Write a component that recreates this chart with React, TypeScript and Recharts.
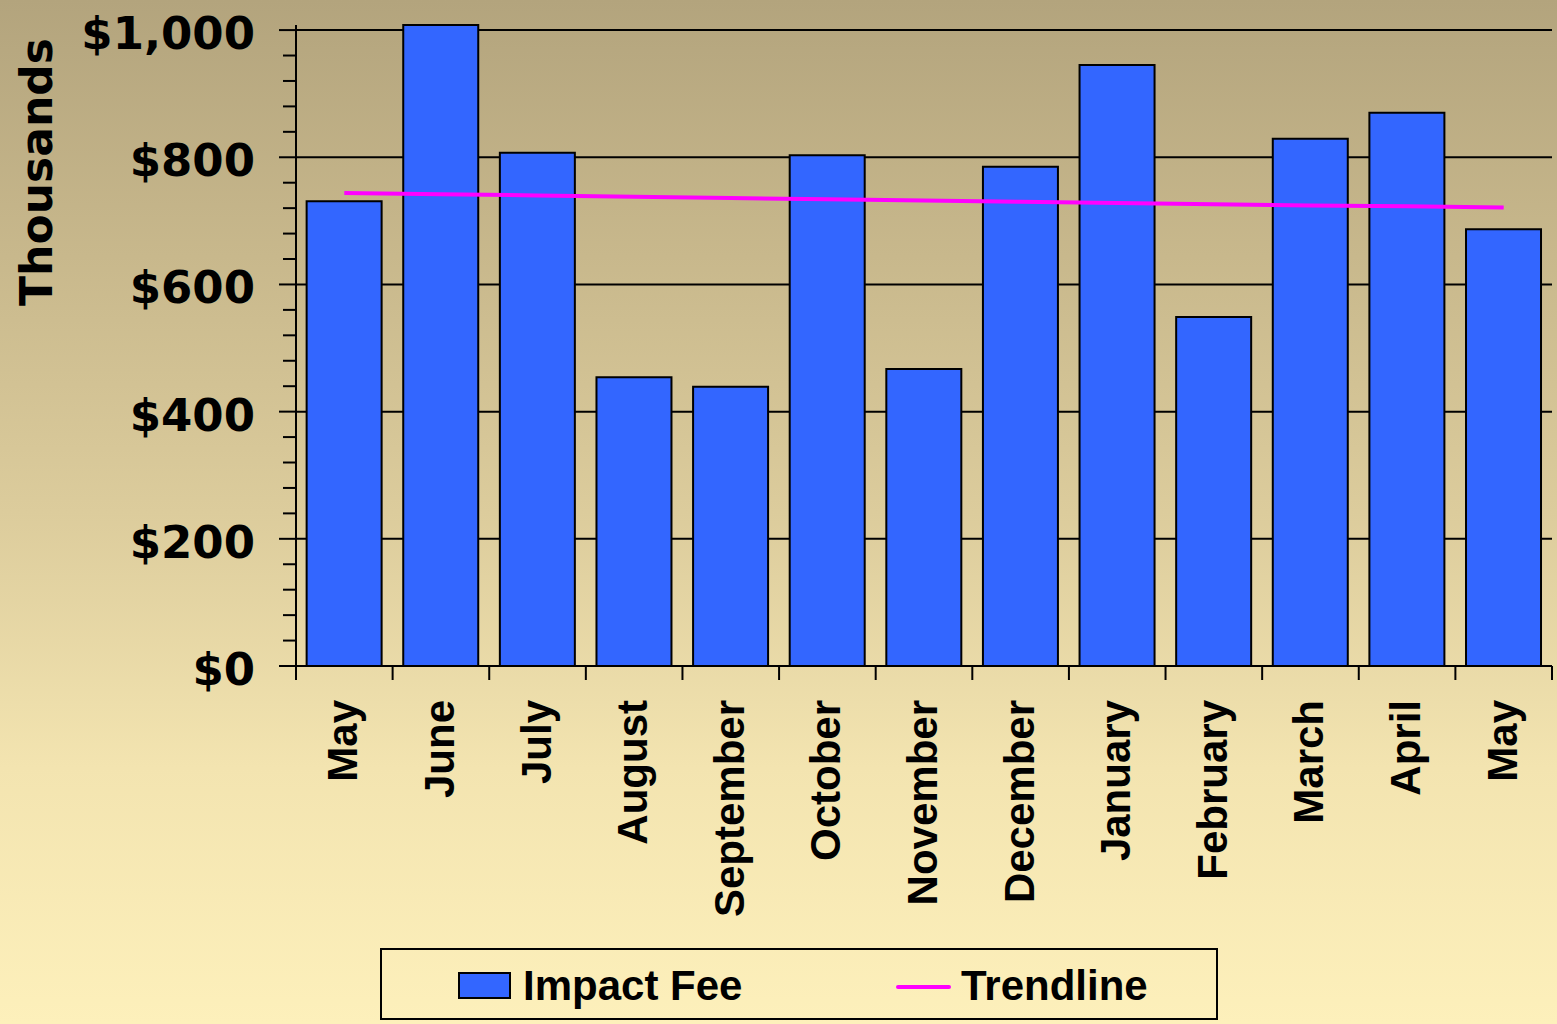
import { ComposedChart, Bar, Line, XAxis, YAxis, CartesianGrid, Legend } from "recharts"

const months = ['May', 'June', 'July', 'August', 'September', 'October', 'November', 'December', 'January', 'February', 'March', 'April', 'May']
const impactFee = [731, 1008, 807, 454, 439, 803, 467, 785, 945, 549, 829, 870, 687]
const trendline = [744, 742, 740, 738, 736, 734, 732, 730, 728, 726, 724, 723, 721]
const yTicks = [0, 40, 80, 120, 160, 200, 240, 280, 320, 360, 400, 440, 480, 520, 560, 600, 640, 680, 720, 760, 800, 840, 880, 920, 960, 1000]
const yMajor = [0, 200, 400, 600, 800, 1000]

const chartData = months.map((m, i) => ({ month: m, fee: impactFee[i], trend: trendline[i] }))

const formatMoney = (v: number) => '$' + v.toLocaleString('en-US')

function YTick(props: any) {
  const { x, y, payload } = props
  const major = yMajor.includes(payload.value)
  return (
    <g>
      <line x1={x - (major ? 17 : 13)} x2={x} y1={y} y2={y} stroke="#000" strokeWidth={2} />
      {major && (
        <text x={x - 41} y={y + 19} textAnchor="end" fill="#000"
          style={{ fontFamily: '"DejaVu Sans", Verdana, sans-serif', fontWeight: 'bold', fontSize: 45 }}>
          {formatMoney(payload.value)}
        </text>
      )}
    </g>
  )
}

function XTick(props: any) {
  const { x, y, payload, index } = props
  const off = payload.offset || 0
  const last = index === months.length - 1
  return (
    <g>
      <line x1={x - off} x2={x - off} y1={y} y2={y + 14} stroke="#000" strokeWidth={2} />
      {last && <line x1={x + off} x2={x + off} y1={y} y2={y + 14} stroke="#000" strokeWidth={2} />}
      <text x={x + 13} y={y + 34} transform={`rotate(-90, ${x + 13}, ${y + 34})`} textAnchor="end" fill="#000"
        style={{ fontFamily: '"Liberation Sans", Arial, sans-serif', fontWeight: 'bold', fontSize: 42 }}>
        {payload.value}
      </text>
    </g>
  )
}

function LegendBox() {
  return (
    <div style={{
      boxSizing: 'border-box', width: 838, height: 72, border: '2px solid #000',
      position: 'relative', fontFamily: '"Liberation Sans", Arial, sans-serif', fontWeight: 'bold', fontSize: 42, color: '#000'
    }}>
      <div style={{ position: 'absolute', left: 76, top: 22, width: 53, height: 27, background: '#3366FF', border: '2px solid #000', boxSizing: 'border-box' }} />
      <div style={{ position: 'absolute', left: 141, top: 12, lineHeight: '48px' }}>Impact Fee</div>
      <div style={{ position: 'absolute', left: 514, top: 35, width: 55, height: 4, background: '#FF00FF', borderRadius: 2 }} />
      <div style={{ position: 'absolute', left: 579, top: 12, lineHeight: '48px' }}>Trendline</div>
    </div>
  )
}

export default function App() {
  return (
    <div style={{
      position: 'fixed', left: 0, top: 0, width: 1557, height: 1024, overflow: 'hidden',
      background: 'linear-gradient(180deg, #b3a47d 0%, #c8b88c 25%, #dccc9c 50%, #f3e4b0 75%, #fdf0bb 100%)'
    }}>
      <svg width={90} height={340} style={{ position: 'absolute', left: 0, top: 0 }}>
        <text x={52} y={172} transform="rotate(-90, 52, 172)" textAnchor="middle" fill="#000"
          style={{ fontFamily: '"DejaVu Sans", Verdana, sans-serif', fontWeight: 'bold', fontSize: 44 }}>
          Thousands
        </text>
      </svg>
      <ComposedChart width={1557} height={1024} data={chartData}
        margin={{ top: 25, right: 5, left: 0, bottom: 4 }} barCategoryGap="11%">
        <CartesianGrid horizontal vertical={false} horizontalValues={yMajor} stroke="#000" strokeWidth={2} />
        <XAxis dataKey="month" interval={0} height={282} tickLine={false} tickSize={0} tickMargin={0}
          axisLine={{ stroke: '#000', strokeWidth: 2 }} tick={<XTick />} />
        <YAxis type="number" domain={[0, 1008]} ticks={yTicks} width={296} tickLine={false} tickSize={0} tickMargin={0}
          axisLine={{ stroke: '#000', strokeWidth: 2 }} tick={<YTick />} interval={0} />
        <Legend verticalAlign="bottom" content={<LegendBox />}
          wrapperStyle={{ left: 380, bottom: 4, width: 838, height: 72 }} />
        <Bar dataKey="fee" name="Impact Fee" fill="#3366FF" stroke="#000" strokeWidth={2} isAnimationActive={false} />
        <Line dataKey="trend" name="Trendline" type="linear" stroke="#FF00FF" strokeWidth={4} dot={false} isAnimationActive={false} />
      </ComposedChart>
    </div>
  )
}
